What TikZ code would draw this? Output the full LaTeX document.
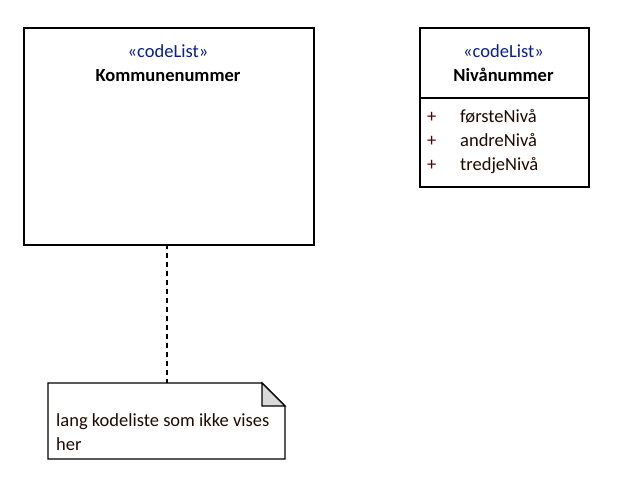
\documentclass[tikz,border=0pt]{standalone}
\usepackage{fontspec}
\setmainfont{Carlito}
\begin{document}
\begin{tikzpicture}[x=1pt,y=-1pt,
  umlbox/.style={draw=black,line width=1.5pt,fill=white,inner sep=0pt},
  stereo/.style={text=stereoblue,font=\fontsize{18.5}{22}\selectfont,anchor=base,inner sep=0pt},
  title/.style={font=\bfseries\fontsize{18.5}{22}\selectfont,anchor=base,inner sep=0pt},
  attr/.style={font=\fontsize{18.5}{22}\selectfont,anchor=base west,inner sep=0pt,text=attrcol},
  vis/.style={font=\fontsize{18.5}{22}\selectfont,anchor=base west,inner sep=0pt,text=pluscol},
  notetext/.style={font=\fontsize{18.5}{22}\selectfont,anchor=base west,inner sep=0pt,text=attrcol}]
\definecolor{stereoblue}{RGB}{10,30,140}
\definecolor{attrcol}{RGB}{30,10,0}
\definecolor{pluscol}{RGB}{90,0,0}
\useasboundingbox (0,0) rectangle (621,496);
% Kommunenummer
\node[umlbox,minimum width=290pt,minimum height=217pt,anchor=north west] (komm) at (23,27) {};
\node[stereo] (kommst) at (168,57) {«codeList»};
\node[title] (kommt) at (168,81) {Kommunenummer};
% Nivanummer
\node[umlbox,minimum width=169pt,minimum height=159pt,anchor=north west] (niva) at (419,27) {};
\coordinate (sepL) at (419,98);
\coordinate (sepR) at (588,98);
\draw[line width=1.5pt] (sepL) -- (sepR);
\node[stereo] (nivast) at (503.5,57) {«codeList»};
\node[title] (nivat) at (503.5,81) {Nivånummer};
\node[vis] (p1) at (427,122) {+};
\node[vis] (p2) at (427,146) {+};
\node[vis] (p3) at (427,170) {+};
\node[attr] (a1) at (460,122) {førsteNivå};
\node[attr] (a2) at (460,146) {andreNivå};
\node[attr] (a3) at (460,170) {tredjeNivå};
% Note
\coordinate (n1) at (48,383);
\coordinate (n2) at (262,383);
\coordinate (n3) at (285,406);
\coordinate (n4) at (285,459);
\coordinate (n5) at (48,459);
\coordinate (n6) at (262,406);
\draw[line width=1.2pt,fill=white] (n1) -- (n2) -- (n3) -- (n4) -- (n5) -- cycle;
\draw[line width=1.2pt,fill=black!15] (n2) -- (n6) -- (n3) -- cycle;
\node[notetext] (nt1) at (56,426) {lang kodeliste som ikke vises};
\node[notetext] (nt2) at (56,450) {her};
\coordinate (notetop) at (167,383);
\coordinate (kommbot) at (167,244);
\draw[line width=1.5pt,dash pattern=on 5pt off 4pt] (kommbot) -- (notetop);
\end{tikzpicture}
\end{document}
